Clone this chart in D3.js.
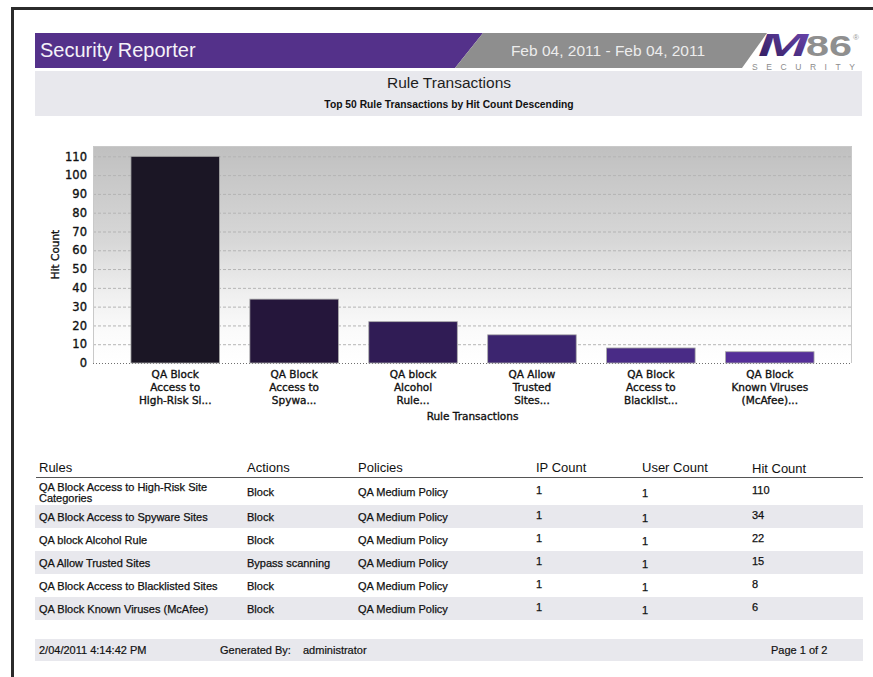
<!DOCTYPE html>
<html>
<head>
<meta charset="utf-8">
<script src="https://cdn.jsdelivr.net/npm/d3@7"></script>
<style>
  html, body { margin: 0; padding: 0; background: #fff; }
  svg { display: block; }
</style>
</head>
<body>
<svg id="page" width="873" height="677"></svg>
<script>
// ---- report data ----
const reportTitle = "Security Reporter";
const dateRange = "Feb 04, 2011 - Feb 04, 2011";
const chartTitle = "Rule Transactions";
const chartSubtitle = "Top 50 Rule Transactions by Hit Count Descending";

const rules = [
  "QA Block Access to High-Risk Site Categories",
  "QA Block Access to Spyware Sites",
  "QA block Alcohol Rule",
  "QA Allow Trusted Sites",
  "QA Block Access to Blacklisted Sites",
  "QA Block Known Viruses (McAfee)"
];
const axisLabels = [
  ["QA Block", "Access to", "High-Risk Si..."],
  ["QA Block", "Access to", "Spywa..."],
  ["QA block", "Alcohol", "Rule..."],
  ["QA Allow", "Trusted", "Sites..."],
  ["QA Block", "Access to", "Blacklist..."],
  ["QA Block", "Known Viruses", "(McAfee)..."]
];
const actions = ["Block", "Block", "Block", "Bypass scanning", "Block", "Block"];
const policies = ["QA Medium Policy", "QA Medium Policy", "QA Medium Policy",
                  "QA Medium Policy", "QA Medium Policy", "QA Medium Policy"];
const ipCounts = [1, 1, 1, 1, 1, 1];
const userCounts = [1, 1, 1, 1, 1, 1];
const hitCounts = [110, 34, 22, 15, 8, 6];
const barColors = ["#1b1625", "#25163b", "#301c55", "#3c256f", "#492b86", "#552f99"];
const yTicks = [0, 10, 20, 30, 40, 50, 60, 70, 80, 90, 100, 110];
const tableHeaders = ["Rules", "Actions", "Policies", "IP Count", "User Count", "Hit Count"];
const footerDate = "2/04/2011 4:14:42 PM";
const footerUser = "administrator";
const footerPage = "Page 1 of 2";

const svg = d3.select("#page");
const sans = "'Liberation Sans', Arial, sans-serif";
const chartFont = "'DejaVu Sans', sans-serif";
const defs = svg.append("defs");

// ---- page frame ----
svg.append("rect").attr("x", 11).attr("y", 7).attr("width", 873).attr("height", 3).attr("fill", "#2b2b2b");
svg.append("rect").attr("x", 11).attr("y", 7).attr("width", 3).attr("height", 677).attr("fill", "#2b2b2b");

// ---- banner ----
svg.append("polygon")
  .attr("points", "35,33 483,33 455,68 35,68")
  .attr("fill", "#54318a");
svg.append("polygon")
  .attr("points", "483,33 767,33 742,68 455,68")
  .attr("fill", "#8e8e8e");
svg.append("text").attr("x", 40).attr("y", 57)
  .attr("font-family", sans).attr("font-size", 20).attr("fill", "#f4f2f8")
  .text(reportTitle);
svg.append("text").attr("x", 608).attr("y", 56).attr("text-anchor", "middle")
  .attr("font-family", sans).attr("font-size", 15.5).attr("fill", "#ececec")
  .text(dateRange);

// logo
const logoGrad = defs.append("linearGradient")
  .attr("id", "logoGrad").attr("x1", "0").attr("y1", "1").attr("x2", "1").attr("y2", "0");
logoGrad.append("stop").attr("offset", "0%").attr("stop-color", "#2e1a5a");
logoGrad.append("stop").attr("offset", "100%").attr("stop-color", "#6e48b2");
svg.append("text").attr("x", 758).attr("y", 55.5)
  .attr("font-family", sans).attr("font-weight", "bold").attr("font-style", "italic")
  .attr("font-size", 31).attr("textLength", 50).attr("lengthAdjust", "spacingAndGlyphs")
  .attr("fill", "url(#logoGrad)").text("M");
svg.append("text").attr("x", 806).attr("y", 55.5)
  .attr("font-family", sans).attr("font-weight", "bold")
  .attr("font-size", 30).attr("textLength", 46).attr("lengthAdjust", "spacingAndGlyphs")
  .attr("fill", "#8f8f8f").text("86");
svg.append("text").attr("x", 853).attr("y", 40)
  .attr("font-family", sans).attr("font-size", 8).attr("fill", "#999").text("®");
svg.append("text").attr("x", 752).attr("y", 70)
  .attr("font-family", sans).attr("font-size", 8.5)
  .attr("textLength", 103).attr("lengthAdjust", "spacing")
  .attr("fill", "#8c8c8c").text("SECURITY");

// ---- title panel ----
svg.append("rect").attr("x", 35).attr("y", 71).attr("width", 827).attr("height", 45).attr("fill", "#e8e8ed");
svg.append("text").attr("x", 449).attr("y", 88).attr("text-anchor", "middle")
  .attr("font-family", sans).attr("font-size", 15.5).attr("fill", "#1e1e1e").text(chartTitle);
svg.append("text").attr("x", 449).attr("y", 108).attr("text-anchor", "middle")
  .attr("font-family", sans).attr("font-size", 10.3).attr("font-weight", "bold").attr("fill", "#111")
  .text(chartSubtitle);

// ---- bar chart ----
const plot = { left: 93, right: 852, top: 146, bottom: 363 };
const plotW = plot.right - plot.left;

const y = d3.scaleLinear()
  .domain([0, d3.max(hitCounts) * 1.05])
  .range([plot.bottom, plot.top]);

// category axis with 5% outer margins and 20% of the width shared as gaps
const x = d3.scaleBand()
  .domain(rules)
  .range([plot.left + plotW * 0.05, plot.right - plotW * 0.05])
  .paddingInner(0.2555)
  .paddingOuter(0);

const bgGrad = defs.append("linearGradient")
  .attr("id", "plotBg").attr("x1", "0").attr("y1", "0").attr("x2", "0").attr("y2", "1");
bgGrad.append("stop").attr("offset", "0%").attr("stop-color", "#c0c0c0");
bgGrad.append("stop").attr("offset", "45%").attr("stop-color", "#d8d8d8");
bgGrad.append("stop").attr("offset", "68%").attr("stop-color", "#efefef");
bgGrad.append("stop").attr("offset", "86%").attr("stop-color", "#fbfbfb");
bgGrad.append("stop").attr("offset", "100%").attr("stop-color", "#ffffff");

const chart = svg.append("g");
chart.append("rect")
  .attr("x", plot.left).attr("y", plot.top)
  .attr("width", plotW).attr("height", plot.bottom - plot.top)
  .attr("fill", "url(#plotBg)");

// dashed grid lines
chart.append("g").selectAll("line")
  .data(yTicks.filter(d => d > 0))
  .join("line")
  .attr("x1", plot.left).attr("x2", plot.right)
  .attr("y1", d => y(d) + 0.5).attr("y2", d => y(d) + 0.5)
  .attr("stroke", "#b4b4b4").attr("stroke-width", 1)
  .attr("stroke-dasharray", "3,2");

// plot frame (top, left, right)
chart.append("path")
  .attr("d", `M${plot.left + 0.5},${plot.bottom}V${plot.top + 0.5}H${plot.right - 0.5}V${plot.bottom}`)
  .attr("fill", "none").attr("stroke", "#c9c9c9").attr("stroke-width", 1);

// dotted baseline
chart.append("line")
  .attr("x1", plot.left).attr("x2", plot.right)
  .attr("y1", plot.bottom + 0.5).attr("y2", plot.bottom + 0.5)
  .attr("stroke", "#6f6f6f").attr("stroke-width", 1).attr("stroke-dasharray", "1,2");

// bars
chart.append("g").selectAll("rect")
  .data(rules)
  .join("rect")
  .attr("x", d => x(d))
  .attr("y", (d, i) => y(hitCounts[i]))
  .attr("width", x.bandwidth())
  .attr("height", (d, i) => y(0) - y(hitCounts[i]))
  .attr("fill", (d, i) => barColors[i])
  .attr("stroke", "#a9a9a9").attr("stroke-width", 0.8);

// chart labels are drawn slightly heavier than the table text
function heavy(sel, w) {
  sel.attr("stroke", "#111").attr("stroke-width", w).attr("paint-order", "stroke");
}

// y axis
const yAxis = d3.axisLeft(y).tickValues(yTicks).tickSize(0).tickPadding(6);
const yG = chart.append("g").attr("transform", `translate(${plot.left},0)`).call(yAxis);
yG.select(".domain").remove();
yG.selectAll("text").attr("font-family", chartFont).attr("font-size", 11.5).attr("fill", "#111")
  .call(heavy, 0.35);

// x axis (multi-line category labels)
const xAxis = d3.axisBottom(x).tickSize(0).tickFormat(() => "");
const xG = chart.append("g").attr("transform", `translate(0,${plot.bottom})`).call(xAxis);
xG.select(".domain").remove();
xG.selectAll(".tick").each(function (d, i) {
  const t = d3.select(this).append("text")
    .attr("text-anchor", "middle").attr("font-family", chartFont)
    .attr("font-size", 10.5).attr("fill", "#111").call(heavy, 0.35);
  axisLabels[i].forEach((line, j) => {
    t.append("tspan").attr("x", 0).attr("y", 15 + j * 13).text(line);
  });
});

// axis titles
chart.append("text").attr("x", (plot.left + plot.right) / 2).attr("y", 420)
  .attr("text-anchor", "middle").attr("font-family", chartFont)
  .attr("font-size", 10.5).attr("fill", "#111").call(heavy, 0.35).text("Rule Transactions");
chart.append("text")
  .attr("transform", `translate(59,${(plot.top + plot.bottom) / 2}) rotate(-90)`)
  .attr("text-anchor", "middle").attr("font-family", chartFont)
  .attr("font-size", 10.5).attr("fill", "#111").call(heavy, 0.35).text("Hit Count");

// ---- data table ----
const colX = [39, 247, 358, 536, 642, 752];
const table = svg.append("g").attr("font-family", sans).attr("fill", "#111");
table.selectAll("text.head")
  .data(tableHeaders)
  .join("text").attr("class", "head")
  .attr("x", (d, i) => colX[i]).attr("y", (d, i) => i === 5 ? 473 : 472)
  .attr("font-size", 13).text(d => d);
table.append("line").attr("x1", 36).attr("x2", 863).attr("y1", 477.5).attr("y2", 477.5)
  .attr("stroke", "#555").attr("stroke-width", 1.2);

const rowTop = [478, 505, 528, 551, 574, 597];
const rowBottom = [505, 528, 551, 574, 597, 620];
rules.forEach((r, i) => {
  if (i % 2 === 1) {
    table.append("rect").attr("x", 35).attr("y", rowTop[i])
      .attr("width", 828).attr("height", rowBottom[i] - rowTop[i]).attr("fill", "#e8e8ed");
  }
});

function wrapWords(text, maxWidth, probe) {
  const words = text.split(" ");
  const lines = [];
  let cur = "";
  words.forEach(w => {
    const trial = cur ? cur + " " + w : w;
    probe.text(trial);
    if (probe.node().getComputedTextLength() > maxWidth && cur) {
      lines.push(cur);
      cur = w;
    } else {
      cur = trial;
    }
  });
  if (cur) lines.push(cur);
  return lines;
}
const probe = table.append("text").attr("font-size", 11).attr("visibility", "hidden");

const body = table.append("g").call(heavy, 0.25);
rules.forEach((r, i) => {
  const mid = (rowTop[i] + rowBottom[i]) / 2;
  const base = mid + 4;
  const lines = wrapWords(r, 200, probe);
  const t = body.append("text").attr("x", colX[0]).attr("font-size", 11);
  const first = base - (lines.length - 1) * 5;
  lines.forEach((ln, j) => {
    t.append("tspan").attr("x", colX[0]).attr("y", first + j * 11).text(ln);
  });
  body.append("text").attr("x", colX[1]).attr("y", base).attr("font-size", 11).text(actions[i]);
  body.append("text").attr("x", colX[2]).attr("y", base).attr("font-size", 11).text(policies[i]);
  body.append("text").attr("x", colX[3]).attr("y", base - 1.5).attr("font-size", 11).text(ipCounts[i]);
  body.append("text").attr("x", colX[4]).attr("y", base + 1.5).attr("font-size", 11).text(userCounts[i]);
  body.append("text").attr("x", colX[5]).attr("y", base - 2).attr("font-size", 11).text(hitCounts[i]);
});
probe.remove();

// ---- footer ----
svg.append("rect").attr("x", 35).attr("y", 639).attr("width", 828).attr("height", 22).attr("fill", "#e8e8ed");
const foot = svg.append("g").attr("font-family", sans).attr("font-size", 11).attr("fill", "#111")
  .call(heavy, 0.2);
foot.append("text").attr("x", 39).attr("y", 654).text(footerDate);
foot.append("text").attr("x", 220).attr("y", 654).text("Generated By:");
foot.append("text").attr("x", 303).attr("y", 654).text(footerUser);
foot.append("text").attr("x", 771).attr("y", 654).text(footerPage);
</script>
</body>
</html>
